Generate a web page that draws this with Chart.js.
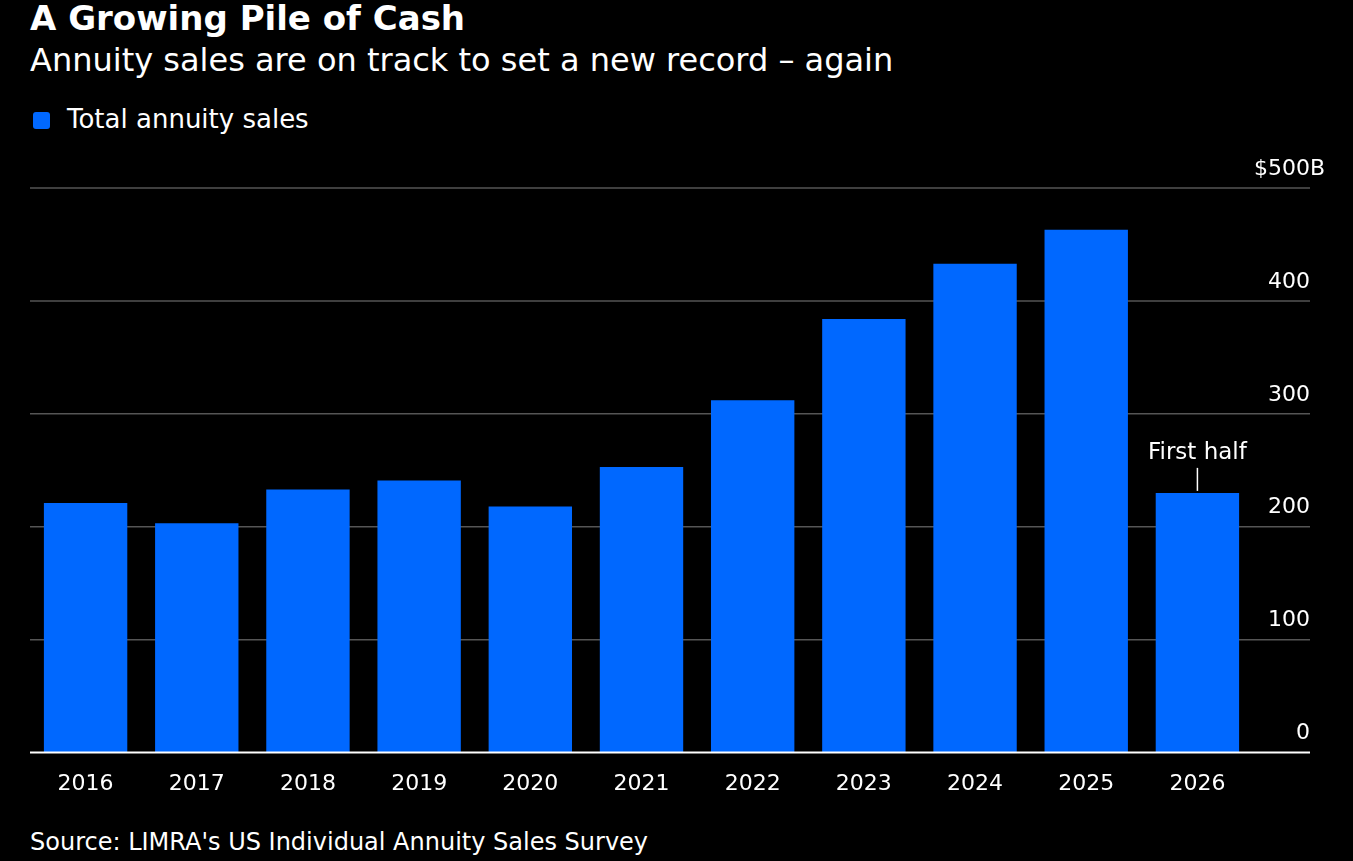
<!DOCTYPE html>
<html><head><meta charset="utf-8">
<script src="https://cdn.jsdelivr.net/npm/chart.js@4"></script>
<style>
body{margin:0;background:#000;width:1353px;height:861px;overflow:hidden;font-family:"DejaVu Sans",sans-serif;color:#fff}
#t{position:absolute;left:30px;top:-2px;font-size:34px;font-weight:bold}
#s{position:absolute;left:30px;top:41px;font-size:32px}
#l{position:absolute;left:33px;top:104px;font-size:26px}
#l span{display:inline-block;width:17px;height:17px;background:#0068ff;border-radius:3px;margin-right:17px;vertical-align:-1px}
#src{position:absolute;left:30px;top:828px;font-size:24px}
#w{position:absolute;left:0;top:137px;width:1353px;height:670px}
</style></head><body>
<div id="t">A Growing Pile of Cash</div>
<div id="s">Annuity sales are on track to set a new record – again</div>
<div id="l"><span></span>Total annuity sales</div>
<div id="w"><canvas id="c"></canvas></div>
<div id="src">Source: LIMRA's US Individual Annuity Sales Survey</div>
<script>
const years=["2016","2017","2018","2019","2020","2021","2022","2023","2024","2025","2026"];
const sales=[221,203,233,241,218,253,312,384,433,463,230];
const yTicks=[0,100,200,300,400,500];
const tickLabels=["0","100","200","300","400","$500B"];
const note={index:10,text:"First half"};
const ff='"DejaVu Sans",sans-serif';
const grid={id:'grid',beforeDatasetsDraw(ch){const c=ch.ctx,y=ch.scales.y;c.save();
 c.font='22px '+ff;c.fillStyle='#fff';c.textAlign='right';c.textBaseline='bottom';
 yTicks.forEach((v,i)=>{const p=y.getPixelForValue(v);
  if(v>0){c.strokeStyle='#555';c.lineWidth=1.5;c.beginPath();c.moveTo(30,p);c.lineTo(1310,p);c.stroke();}
  c.fillText(tickLabels[i],v===500?1325:1310,p-8);});
 c.restore();},
 afterDatasetsDraw(ch){const c=ch.ctx,y=ch.scales.y,x=ch.scales.x;c.save();
 const p=y.getPixelForValue(0);c.strokeStyle='#fff';c.lineWidth=2;c.beginPath();c.moveTo(30,p);c.lineTo(1310,p);c.stroke();
 const cx=x.getPixelForValue(note.index),top=y.getPixelForValue(sales[note.index]);
 c.lineWidth=1.5;c.beginPath();c.moveTo(cx,top-2);c.lineTo(cx,top-25);c.stroke();
 c.font='23px '+ff;c.fillStyle='#fff';c.textAlign='center';c.textBaseline='bottom';c.fillText(note.text,cx,top-28);
 c.restore();}};
new Chart(document.getElementById('c'),{type:'bar',
 data:{labels:years,datasets:[{data:sales,backgroundColor:'#0068ff',barPercentage:0.75,categoryPercentage:1}]},
 options:{responsive:true,maintainAspectRatio:false,animation:false,
  layout:{padding:{top:51,right:100,left:30,bottom:0}},
  plugins:{legend:{display:false},tooltip:{enabled:false}},
  scales:{x:{grid:{display:false},border:{display:false},ticks:{color:'#fff',font:{size:22,family:ff},padding:10}},
   y:{min:0,max:500,display:false}}},
 plugins:[grid]});
</script></body></html>
